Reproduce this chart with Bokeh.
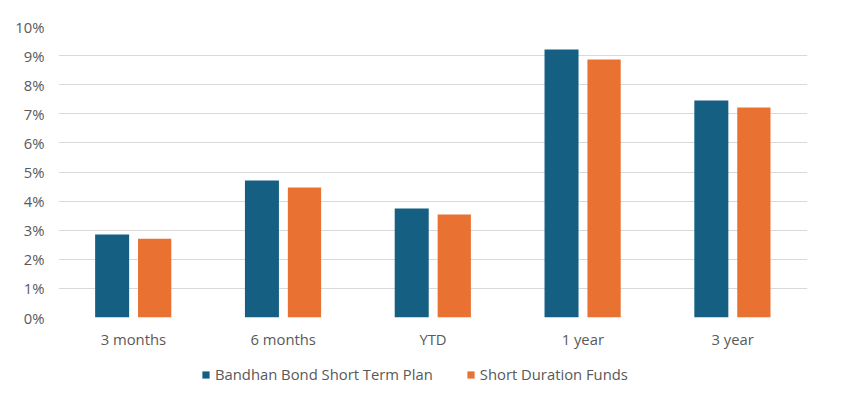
from bokeh.plotting import figure
from bokeh.layouts import column
from bokeh.models import FactorRange, Range1d, Legend, LegendItem, PrintfTickFormatter, FixedTicker
from bokeh.transform import dodge
from bokeh.embed import file_html
from bokeh.resources import INLINE

categories = ["3 months", "6 months", "YTD", "1 year", "3 year"]
bandhan = [2.85, 4.71, 3.75, 9.21, 7.46]
short_duration = [2.71, 4.47, 3.54, 8.87, 7.22]
series_names = ["Bandhan Bond Short Term Plan", "Short Duration Funds"]
y_ticks = [0, 1, 2, 3, 4, 5, 6, 7, 8, 9, 10]

BLUE = "#156082"
ORANGE = "#E97132"
TXT = "#595959"
FONT = "Open Sans"
FS = "14.8px"

W = 835
p = figure(width=W, height=351, x_range=FactorRange(factors=categories, range_padding=0),
           y_range=Range1d(0, 10), output_backend="svg", toolbar_location=None,
           min_border_left=58, min_border_right=28, min_border_top=26, min_border_bottom=34)
p.outline_line_color = None
p.background_fill_color = "white"

data = dict(cat=categories, a=bandhan, b=short_duration)
r1 = p.vbar(x=dodge("cat", -0.142, range=p.x_range), top="a", width=0.227, source=data,
            fill_color=BLUE, line_color=None)
r2 = p.vbar(x=dodge("cat", 0.142, range=p.x_range), top="b", width=0.222, source=data,
            fill_color=ORANGE, line_color=None)

p.xgrid.grid_line_color = None
p.ygrid.grid_line_color = "#D9D9D9"
p.ygrid.grid_line_width = 1
p.ygrid.ticker = FixedTicker(ticks=y_ticks)

p.yaxis.ticker = FixedTicker(ticks=y_ticks)
p.yaxis.formatter = PrintfTickFormatter(format="%d%%")
for ax in (p.xaxis, p.yaxis):
    ax.axis_line_color = None
    ax.major_tick_line_color = None
    ax.minor_tick_line_color = None
    ax.major_tick_out = 0
    ax.major_tick_in = 0
    ax.minor_tick_out = 0
    ax.minor_tick_in = 0
    ax.major_label_text_font = FONT
    ax.major_label_text_font_size = FS
    ax.major_label_text_color = TXT
p.yaxis.major_label_standoff = 14
p.xaxis.major_label_standoff = 11

# legend strip
lg = figure(width=W, height=37, output_backend="svg", toolbar_location=None,
            min_border_left=58, min_border_right=28, min_border_top=0, min_border_bottom=0,
            x_range=Range1d(0, 1), y_range=Range1d(0, 1))
lg.outline_line_color = None
lg.axis.visible = False
lg.grid.grid_line_color = None
placeholder = dict(x=[0.5], top=[0])
l1 = lg.vbar(x="x", top="top", width=0, source=placeholder, fill_color=BLUE, line_color=None)
l2 = lg.vbar(x="x", top="top", width=0, source=placeholder, fill_color=ORANGE, line_color=None)
legend = Legend(items=[LegendItem(label=series_names[0], renderers=[l1], index=0),
                       LegendItem(label=series_names[1], renderers=[l2], index=0)],
                orientation="horizontal", location=(143, 4),
                glyph_width=9, glyph_height=9, label_standoff=5, spacing=33,
                label_text_font=FONT, label_text_font_size=FS, label_text_color=TXT,
                border_line_color=None, background_fill_alpha=0, padding=0, margin=0)
lg.add_layout(legend, "center")

layout = column(p, lg, spacing=0)
open("out.html", "w").write(file_html(layout, INLINE))
